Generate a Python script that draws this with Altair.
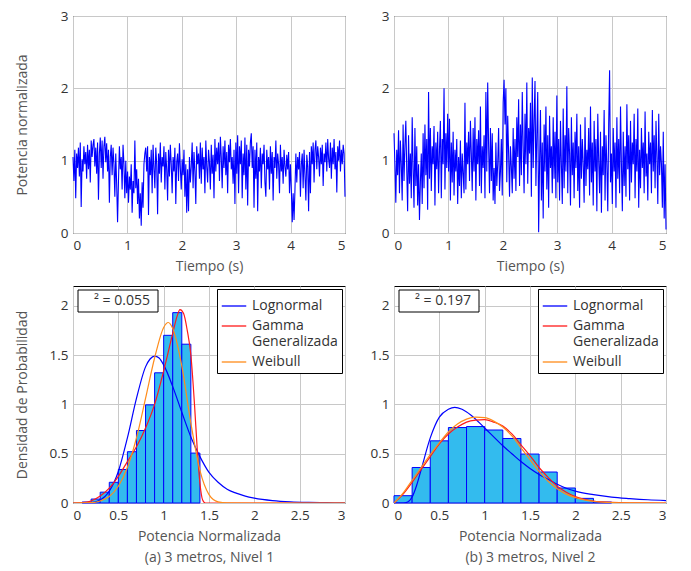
import altair as alt
import pandas as pd

# ---------------- data ----------------
nivel1_potencia = [
    1.05, 0.72, 1.15, 0.48, 1.10, 0.90, 1.18, 0.78, 1.25, 0.36, 1.02, 0.85, 1.20, 0.95, 1.12, 0.75, 1.22, 0.88, 1.15, 0.70,
    1.28, 1.05, 1.22, 1.30, 0.92, 1.18, 0.82, 1.25, 0.46, 1.10, 1.32, 0.90, 1.28, 0.75, 1.20, 1.33, 0.98, 1.24, 0.85, 1.15,
    0.42, 1.05, 1.22, 0.80, 1.18, 0.95, 0.50, 1.10, 0.68, 0.15, 0.72, 1.20, 0.88, 1.05, 0.60, 1.22, 0.95, 0.48, 1.00, 0.55,
    0.85, 0.42, 0.78, 0.60, 0.95, 0.28, 0.72, 0.55, 1.28, 0.62, 0.88, 0.40, 0.75, 0.20, 0.55, 0.10, 0.70, 0.35, 0.95, 1.10,
    1.18, 0.85, 1.20, 0.25, 1.05, 0.80, 1.15, 0.55, 1.22, 0.90, 0.62, 1.18, 0.95, 0.26, 1.10, 0.82, 1.25, 0.70, 1.05, 0.92,
    1.20, 0.60, 1.12, 0.88, 0.45, 1.15, 0.78, 1.22, 0.95, 0.55, 1.05, 0.85, 1.18, 0.40, 0.98, 1.10, 0.72, 1.24, 0.90, 0.60,
    1.02, 0.80, 1.15, 0.50, 0.95, 0.28, 0.88, 0.30, 1.05, 0.70, 0.92, 1.25, 0.62, 1.12, 0.85, 0.40, 1.20, 0.95, 1.10, 0.75,
    1.25, 0.68, 1.18, 0.88, 1.05, 0.55, 1.28, 0.92, 0.70, 1.15, 0.98, 0.60, 1.22, 0.82, 1.08, 0.48, 1.30, 0.85, 1.18, 0.95,
    1.25, 0.72, 1.33, 1.05, 0.62, 1.20, 0.90, 1.28, 0.80, 1.12, 0.55, 1.22, 0.98, 1.30, 0.88, 1.05, 0.68, 1.15, 0.40, 1.25,
    0.82, 1.35, 0.55, 1.20, 0.95, 1.28, 0.48, 1.10, 0.80, 1.32, 0.60, 1.22, 0.38, 1.15, 0.92, 1.25, 1.38, 0.90, 1.20, 0.35,
    1.15, 0.75, 1.25, 0.30, 1.05, 0.85, 1.18, 0.62, 1.10, 0.95, 1.22, 0.70, 0.50, 1.15, 0.88, 1.05, 0.60, 1.20, 0.82, 1.12,
    0.45, 1.05, 0.90, 1.28, 0.75, 1.10, 0.95, 0.55, 1.22, 0.85, 1.05, 0.68, 1.15, 0.92, 0.78, 1.08, 0.88, 1.12, 0.55, 0.95,
    0.60, 0.15, 0.55, 0.18, 0.60, 1.10, 0.70, 1.05, 0.88, 1.12, 0.50, 0.95, 1.10, 0.62, 1.15, 0.80, 0.45, 1.08, 0.92, 0.30,
    1.12, 0.55, 1.20, 0.95, 1.25, 0.70, 1.15, 1.28, 0.88, 1.20, 1.05, 0.78, 1.18, 0.95, 1.22, 0.65, 1.10, 0.98, 1.25, 0.85,
    1.30, 1.02, 0.90, 1.25, 0.75, 1.18, 0.95, 1.30, 0.88, 1.12, 0.56, 1.20, 1.00, 1.28, 0.85, 1.15, 0.95, 1.22, 1.10, 0.50,
]

nivel2_potencia = [
    1.38, 0.95, 0.42, 1.15, 0.80, 1.42, 0.55, 1.28, 0.95, 0.45, 1.50, 0.72, 1.20, 1.55, 0.88, 0.30, 1.35, 0.68, 1.10, 0.48,
    1.60, 0.90, 0.35, 1.45, 0.65, 1.20, 0.38, 0.95, 0.18, 0.70, 1.10, 0.40, 1.38, 0.62, 1.50, 0.80, 1.30, 0.32, 1.95, 0.75,
    1.45, 0.58, 1.20, 0.95, 1.48, 0.38, 1.25, 0.88, 1.40, 0.55, 1.15, 1.55, 0.48, 1.30, 0.95, 2.00, 0.60, 1.38, 0.90, 1.65,
    0.85, 1.58, 0.45, 1.25, 0.70, 1.40, 0.52, 1.15, 0.85, 1.30, 0.40, 1.05, 0.65, 1.28, 0.48, 1.10, 0.82, 0.55, 1.80, 0.60,
    1.25, 0.95, 1.40, 0.72, 1.55, 1.10, 0.58, 1.45, 0.85, 1.60, 0.45, 1.30, 0.95, 1.42, 0.65, 1.75, 0.55, 1.20, 0.90, 1.35,
    0.48, 1.95, 0.85, 2.08, 1.20, 0.55, 1.45, 0.72, 1.38, 0.45, 0.90, 0.40, 1.25, 0.65, 0.95, 1.45, 0.58, 0.85, 1.30, 0.52,
    1.80, 2.12, 1.50, 2.00, 0.70, 1.62, 1.10, 0.50, 1.20, 0.92, 0.55, 1.45, 0.75, 1.30, 0.58, 1.60, 1.05, 1.85, 0.65, 1.50,
    0.80, 1.95, 1.20, 0.55, 1.65, 0.95, 2.08, 0.68, 1.45, 1.10, 1.80, 0.50, 2.15, 0.90, 1.55, 2.10, 0.65, 1.35, 1.95, 0.01,
    0.95, 1.70, 0.45, 1.25, 0.20, 1.50, 0.85, 1.75, 0.60, 1.35, 0.35, 1.62, 0.90, 1.20, 0.55, 1.60, 0.75, 1.40, 0.48, 1.90,
    0.70, 1.30, 0.45, 1.55, 0.95, 0.40, 1.72, 0.62, 1.35, 0.85, 2.03, 0.55, 1.45, 1.10, 0.38, 1.60, 0.80, 1.25, 0.48, 1.40,
    0.90, 1.65, 0.58, 1.20, 0.35, 1.50, 0.75, 1.30, 0.95, 0.42, 1.60, 0.65, 1.15, 0.88, 1.45, 0.52, 1.75, 0.70, 1.25, 0.38,
    1.55, 0.85, 1.30, 0.30, 1.65, 1.00, 0.55, 1.40, 0.28, 1.20, 0.80, 1.70, 0.45, 1.35, 0.95, 0.30, 1.50, 2.25, 0.70, 1.10,
    0.40, 1.45, 0.85, 1.25, 0.35, 1.60, 0.75, 1.30, 0.55, 1.75, 0.95, 0.30, 1.40, 0.65, 1.20, 0.50, 1.78, 0.88, 1.35, 0.45,
    1.55, 0.70, 1.25, 0.95, 1.65, 0.48, 1.30, 0.85, 1.72, 0.35, 1.15, 0.62, 1.45, 0.90, 1.25, 0.55, 1.68, 0.78, 1.10, 0.45,
    1.40, 0.95, 1.25, 0.55, 1.70, 0.85, 1.35, 0.62, 1.55, 1.05, 0.40, 1.65, 0.80, 1.20, 0.95, 0.35, 1.40, 0.20, 0.95, 0.05,
]
duracion_s = 5.0

# histogram, panel (a)
hist1_lo = [0.1, 0.2, 0.3, 0.4, 0.5, 0.6, 0.7, 0.8, 0.9, 1.0, 1.1, 1.2, 1.3]
hist1_hi = [0.2, 0.3, 0.4, 0.5, 0.6, 0.7, 0.8, 0.9, 1.0, 1.1, 1.2, 1.3, 1.4]
hist1_h = [0.01, 0.04, 0.11, 0.21, 0.34, 0.52, 0.735, 0.995, 1.32, 1.70, 1.93, 1.61, 0.506]

# histogram, panel (b)
hist2_lo = [0.0, 0.2, 0.4, 0.6, 0.8, 1.0, 1.2, 1.4, 1.6, 1.8, 2.0, 2.2]
hist2_hi = [0.2, 0.4, 0.6, 0.8, 1.0, 1.2, 1.4, 1.6, 1.8, 2.0, 2.2, 2.4]
hist2_h = [0.074, 0.36, 0.63, 0.765, 0.775, 0.74, 0.654, 0.496, 0.314, 0.152, 0.047, 0.01]

# fitted curves, panel (a)
logn1_x = [0, 0.2, 0.3, 0.4, 0.5, 0.6, 0.7, 0.8, 0.85, 0.9, 0.95, 1.0, 1.1, 1.2, 1.3, 1.4, 1.5, 1.6, 1.7, 1.8, 1.9, 2.0, 2.2, 2.4, 2.6, 2.8, 3.0]
logn1_y = [0, 0.005, 0.03, 0.12, 0.32, 0.66, 1.06, 1.38, 1.46, 1.49, 1.47, 1.40, 1.18, 0.92, 0.67, 0.47, 0.31, 0.21, 0.14, 0.10, 0.07, 0.05, 0.025, 0.012, 0.006, 0.003, 0.001]
gamma1_x = [0, 0.1, 0.2, 0.3, 0.4, 0.5, 0.6, 0.7, 0.8, 0.9, 1.0, 1.1, 1.15, 1.18, 1.22, 1.26, 1.3, 1.34, 1.37, 1.4, 1.43, 1.46, 1.6, 2.0, 3.0]
gamma1_y = [0, 0.003, 0.02, 0.07, 0.15, 0.27, 0.42, 0.57, 0.76, 1.0, 1.34, 1.72, 1.90, 1.96, 1.92, 1.75, 1.50, 1.0, 0.55, 0.2, 0.03, 0.0, 0, 0, 0]
weib1_x = [0, 0.2, 0.3, 0.4, 0.5, 0.6, 0.7, 0.8, 0.9, 1.0, 1.05, 1.1, 1.2, 1.3, 1.4, 1.5, 1.6, 1.7, 2.0, 3.0]
weib1_y = [0, 0.003, 0.02, 0.065, 0.17, 0.36, 0.66, 1.06, 1.47, 1.78, 1.83, 1.77, 1.39, 0.81, 0.33, 0.085, 0.012, 0.001, 0, 0]

# fitted curves, panel (b)
logn2_x = [0, 0.1, 0.15, 0.2, 0.25, 0.3, 0.4, 0.5, 0.6, 0.67, 0.75, 0.85, 1.0, 1.1, 1.2, 1.3, 1.4, 1.5, 1.6, 1.7, 1.8, 1.9, 2.0, 2.2, 2.4, 2.6, 2.8, 3.0]
logn2_y = [0, 0, 0.01, 0.06, 0.18, 0.34, 0.66, 0.87, 0.95, 0.97, 0.95, 0.89, 0.76, 0.67, 0.58, 0.50, 0.42, 0.35, 0.29, 0.24, 0.19, 0.15, 0.12, 0.085, 0.06, 0.045, 0.033, 0.025]
gamma2_x = [0, 0.1, 0.2, 0.3, 0.4, 0.5, 0.6, 0.7, 0.8, 0.9, 1.0, 1.1, 1.2, 1.3, 1.4, 1.5, 1.6, 1.7, 1.8, 1.9, 2.0, 2.2, 2.4, 2.6, 3.0]
gamma2_y = [0, 0.09, 0.21, 0.34, 0.47, 0.60, 0.70, 0.77, 0.82, 0.84, 0.845, 0.82, 0.78, 0.70, 0.59, 0.48, 0.36, 0.26, 0.17, 0.11, 0.065, 0.02, 0.006, 0.002, 0]
weib2_x = [0, 0.1, 0.2, 0.3, 0.4, 0.5, 0.6, 0.7, 0.8, 0.9, 1.0, 1.1, 1.2, 1.3, 1.4, 1.5, 1.6, 1.7, 1.8, 1.9, 2.0, 2.2, 2.4, 2.6, 3.0]
weib2_y = [0, 0.10, 0.23, 0.36, 0.49, 0.61, 0.72, 0.80, 0.85, 0.87, 0.865, 0.83, 0.77, 0.68, 0.56, 0.44, 0.32, 0.22, 0.145, 0.09, 0.055, 0.017, 0.004, 0.001, 0]

chi1 = "\u00b2 = 0.055"
chi2 = "\u00b2 = 0.197"
caption1 = "(a) 3 metros, Nivel 1"
caption2 = "(b) 3 metros, Nivel 2"
dist_names = ["Lognormal", "Gamma Generalizada", "Weibull"]
dist_colors = ["#0000ff", "#ff1a1a", "#ff8c1a"]

# ---------------- chart ----------------
W, H = 272, 217
FONT = "Open Sans"


def time_panel(values, show_ytitle):
    n = len(values)
    df = pd.DataFrame({"t": [duracion_s * i / (n - 1) for i in range(n)], "p": values})
    yax = alt.Axis(values=[0, 1, 2, 3], title="Potencia normalizada" if show_ytitle else None,
                   titlePadding=31)
    return alt.Chart(df).mark_line(color="#0000ff", strokeWidth=1.1).encode(
        x=alt.X("t:Q", scale=alt.Scale(domain=[0, 5], nice=False),
                axis=alt.Axis(values=[0, 1, 2, 3, 4, 5], title="Tiempo (s)", titlePadding=8)),
        y=alt.Y("p:Q", scale=alt.Scale(domain=[0, 3], nice=False), axis=yax),
    ).properties(width=W, height=H)


def hist_panel(lo, hi, h, curves, chi, caption, show_ytitle):
    bars = pd.DataFrame({"x0": lo, "x1": hi, "h": h})
    rows = []
    for name, xs, ys in curves:
        for xv, yv in zip(xs, ys):
            rows.append({"x": xv, "y": yv, "dist": name})
    cdf = pd.DataFrame(rows)
    xsc = alt.Scale(domain=[0, 3], nice=False)
    ysc = alt.Scale(domain=[0, 2.2], nice=False)
    xax = alt.Axis(values=[0, 0.5, 1, 1.5, 2, 2.5, 3], labelExpr="format(datum.value, '~g')",
                   title=["Potencia Normalizada", caption], titlePadding=8, titleLineHeight=21)
    yax = alt.Axis(values=[0, 0.5, 1, 1.5, 2], labelExpr="format(datum.value, '~g')",
                   title="Densidad de Probabilidad" if show_ytitle else None, titlePadding=20)
    bar_layer = alt.Chart(bars).mark_rect(fill="#33bbee", stroke="#0000ff", strokeWidth=1).encode(
        x=alt.X("x0:Q", scale=xsc, axis=xax),
        x2="x1:Q",
        y=alt.Y("h:Q", scale=ysc, axis=yax),
        y2=alt.datum(0),
    )
    line_layer = alt.Chart(cdf).mark_line(strokeWidth=1.2, interpolate="monotone", clip=True).encode(
        x=alt.X("x:Q", scale=xsc),
        y=alt.Y("y:Q", scale=ysc),
        color=alt.Color("dist:N", scale=alt.Scale(domain=dist_names, range=dist_colors),
                        legend=alt.Legend(
                            title=None, orient="top-right", offset=3,
                            labelExpr="datum.label == 'Gamma Generalizada' ? ['Gamma', 'Generalizada'] : datum.label",
                            fillColor="white", strokeColor="black", padding=4,
                            labelFont=FONT, labelFontSize=14, labelColor="#333",
                            symbolType="stroke", symbolSize=600, symbolStrokeWidth=1.3,
                            rowPadding=0, labelOffset=5)),
        order=alt.Order("x:Q"),
    )
    one = pd.DataFrame({"k": [0]})
    box = alt.Chart(one).mark_rect(fill="white", stroke="black", strokeWidth=1).encode(
        x=alt.value(5), x2=alt.value(85), y=alt.value(4), y2=alt.value(26))
    txt = alt.Chart(one).mark_text(font=FONT, fontSize=14, color="#333", align="center", baseline="middle").encode(
        x=alt.value(49), y=alt.value(15), text=alt.value(chi))
    return alt.layer(bar_layer, line_layer, box, txt).properties(width=W, height=H)


tl = time_panel(nivel1_potencia, True)
tr = time_panel(nivel2_potencia, False)
bl = hist_panel(hist1_lo, hist1_hi, hist1_h,
                [("Lognormal", logn1_x, logn1_y), ("Gamma Generalizada", gamma1_x, gamma1_y),
                 ("Weibull", weib1_x, weib1_y)], chi1, caption1, True)
br = hist_panel(hist2_lo, hist2_hi, hist2_h,
                [("Lognormal", logn2_x, logn2_y), ("Gamma Generalizada", gamma2_x, gamma2_y),
                 ("Weibull", weib2_x, weib2_y)], chi2, caption2, False)

chart = alt.concat(tl, tr, bl, br, columns=2, spacing={"row": 53, "column": 49}, bounds="flush").resolve_scale(
    color="independent", x="independent", y="independent"
).resolve_legend(color="independent").properties(
    padding={"left": 6, "top": 0, "right": 5, "bottom": 5}
).configure_view(stroke="black", strokeWidth=1).configure_axis(
    labelFont=FONT, labelFontSize=13.5, labelColor="#333", labelPadding=5,
    titleFont=FONT, titleFontSize=14, titleFontWeight="normal", titleColor="#555",
    grid=True, gridColor="#c8c8c8", gridWidth=1, domain=False, ticks=False,
)

chart.save("out.html", embed_options={"renderer": "svg", "actions": False})
